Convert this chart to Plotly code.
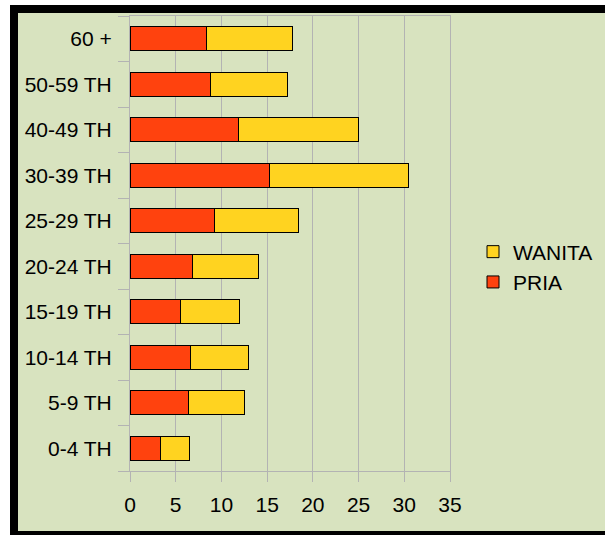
import plotly.graph_objects as go

categories = ["0-4 TH", "5-9 TH", "10-14 TH", "15-19 TH", "20-24 TH",
              "25-29 TH", "30-39 TH", "40-49 TH", "50-59 TH", "60 +"]
pria = [3.3, 6.45, 6.65, 5.5, 6.85, 9.2, 15.3, 11.9, 8.8, 8.4]
wanita = [3.2, 6.1, 6.3, 6.45, 7.25, 9.25, 15.2, 13.1, 8.4, 9.4]
x_ticks = [0, 5, 10, 15, 20, 25, 30, 35]

W, H = 605, 535
L, R, T, B = 130, 155, 16, 64
PW, PH = W - L - R, H - T - B

def px_x(p):
    return (p - L) / PW

def px_y(p):
    return (H - B - p) / PH

BG = "#d8e3bf"
GRID = "#b3b3b3"
FONT = "Liberation Sans, Arial, sans-serif"

fig = go.Figure()
fig.add_trace(go.Bar(y=categories, x=pria, name="PRIA", orientation="h",
                     marker=dict(color="#ff420e", line=dict(color="#000000", width=1))))
fig.add_trace(go.Bar(y=categories, x=wanita, name="WANITA", orientation="h",
                     marker=dict(color="#ffd320", line=dict(color="#000000", width=1))))

shapes = [
    dict(type="rect", xref="paper", yref="paper", layer="below",
         x0=px_x(18), x1=px_x(W + 2), y0=px_y(13), y1=px_y(531),
         fillcolor=BG, line=dict(width=0)),
    dict(type="rect", xref="paper", yref="paper", layer="below",
         x0=px_x(10), x1=px_x(W + 2), y0=px_y(5), y1=px_y(13),
         fillcolor="#000000", line=dict(width=0)),
    dict(type="rect", xref="paper", yref="paper", layer="below",
         x0=px_x(10), x1=px_x(18), y0=px_y(5), y1=px_y(H + 2),
         fillcolor="#000000", line=dict(width=0)),
    dict(type="rect", xref="paper", yref="paper", layer="below",
         x0=px_x(10), x1=px_x(W + 2), y0=px_y(531), y1=px_y(H + 2),
         fillcolor="#000000", line=dict(width=0)),
]

fig.update_layout(
    width=W, height=H,
    margin=dict(l=L, r=R, t=T, b=B, pad=0, autoexpand=False),
    paper_bgcolor="#ffffff",
    plot_bgcolor=BG,
    barmode="stack",
    bargap=0.47,
    shapes=shapes,
    font=dict(family=FONT, size=21, color="#000000"),
    showlegend=True,
    legend=dict(traceorder="reversed", x=px_x(473), xanchor="left",
                y=px_y(267), yanchor="middle", bgcolor="rgba(0,0,0,0)",
                font=dict(family=FONT, size=21, color="#000000")),
    xaxis=dict(range=[0, 35], tickvals=x_ticks, showgrid=True, gridcolor=GRID,
               gridwidth=1, zeroline=False, showline=True, mirror=True,
               linecolor=GRID, linewidth=1, ticks="outside", ticklen=10,
               tickcolor=GRID, tickwidth=1, ticklabelstandoff=5,
               tickfont=dict(size=21, family=FONT)),
    yaxis=dict(type="category", categoryorder="array", categoryarray=categories,
               showgrid=False, zeroline=False, showline=True, mirror=True,
               linecolor=GRID, linewidth=1, ticks="outside", ticklen=11,
               tickcolor=GRID, tickwidth=1, tickson="boundaries",
               ticklabelstandoff=13,
               tickfont=dict(size=21, family=FONT)),
)

fig.write_html("out.html")
